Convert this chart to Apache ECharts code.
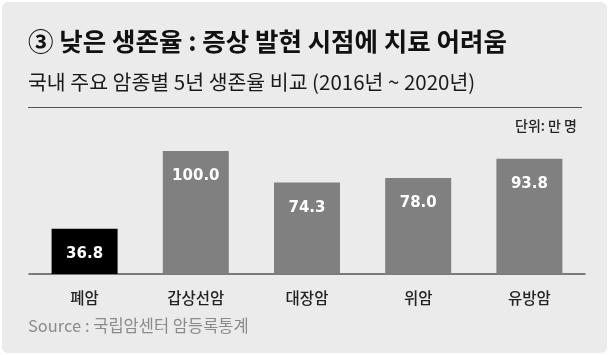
<!DOCTYPE html>
<html>
<head>
<meta charset="utf-8">
<script src="https://cdn.jsdelivr.net/npm/echarts@6/dist/echarts.min.js"></script>
<style>
  html, body { margin: 0; padding: 0; background: #ffffff; }
  #chart { width: 609px; height: 355px; }
</style>
</head>
<body>
<div id="chart"></div>
<script>
// 국내 주요 암종별 5년 생존율 (단위: 만 명)
const categories = ['폐암', '갑상선암', '대장암', '위암', '유방암'];
const survivors = [36.8, 100.0, 74.3, 78.0, 93.8];
const highlightIndex = 0;

const titleText = '③ 낮은 생존율 : 증상 발현 시점에 치료 어려움';
const subtitleText = '국내 주요 암종별 5년 생존율 비교 (2016년 ~ 2020년)';
const unitText = '단위: 만 명';
const sourceText = 'Source : 국립암센터 암등록통계';

const KR = '"Noto Sans CJK KR", "Noto Sans", sans-serif';

const chart = echarts.init(document.getElementById('chart'), null, { renderer: 'canvas' });

chart.setOption({
  backgroundColor: '#ffffff',
  animation: false,
  grid: { left: 29, right: 24, top: 151, bottom: 81, containLabel: false },
  xAxis: {
    type: 'category',
    data: categories,
    axisLine: { show: true, lineStyle: { color: '#555555', width: 1.5 } },
    axisTick: { show: false },
    axisLabel: {
      color: '#222222',
      fontFamily: KR,
      fontSize: 15.5,
      fontWeight: 500,
      margin: 16
    }
  },
  yAxis: {
    type: 'value',
    min: 0,
    max: 100,
    show: false,
    splitLine: { show: false }
  },
  series: [{
    type: 'bar',
    barWidth: 66,
    data: survivors.map((v, i) => ({
      value: v,
      itemStyle: { color: i === highlightIndex ? '#000000' : '#808080' }
    })),
    label: {
      show: true,
      position: 'insideTop',
      distance: 18,
      color: '#ffffff',
      fontFamily: '"DejaVu Sans", sans-serif',
      fontWeight: 'bold',
      fontSize: 15,
      formatter: p => p.value.toFixed(1)
    }
  }],
  graphic: [
    {
      type: 'rect', z: -10, silent: true,
      shape: { x: 2, y: 2, width: 605, height: 351, r: 6 },
      style: { fill: '#ebebeb' }
    },
    {
      type: 'text', left: 28, top: 29,
      style: { text: titleText, font: 'bold 25.5px ' + KR, fill: '#111111' }
    },
    {
      type: 'text', left: 28, top: 72,
      style: { text: subtitleText, font: '400 20.5px ' + KR, fill: '#1a1a1a' }
    },
    {
      type: 'line', silent: true,
      shape: { x1: 28, y1: 107.5, x2: 582, y2: 107.5 },
      style: { stroke: '#555555', lineWidth: 1 }
    },
    {
      type: 'text', right: 32, top: 119,
      style: { text: unitText, font: '500 14px ' + KR, fill: '#222222' }
    },
    {
      type: 'text', left: 28, top: 317,
      style: { text: sourceText, font: '400 16.5px ' + KR, fill: '#8a8a8a' }
    }
  ]
});
</script>
</body>
</html>
